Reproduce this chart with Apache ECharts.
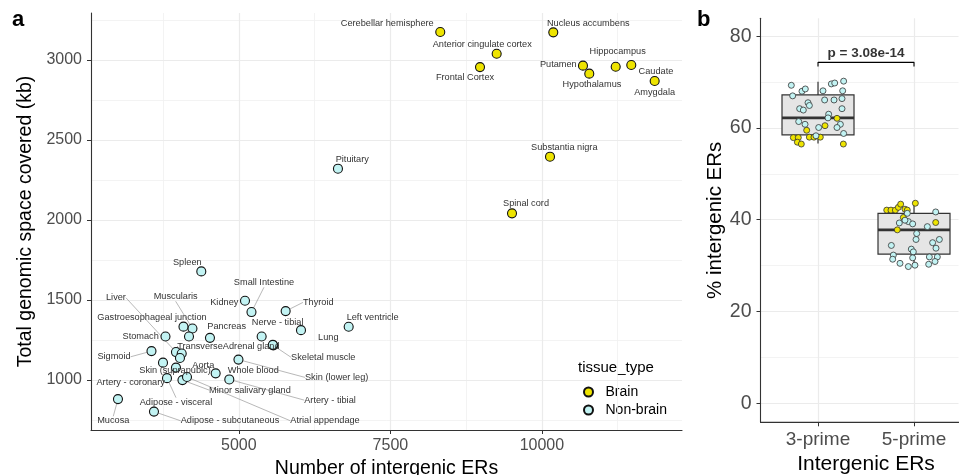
<!DOCTYPE html>
<html><head><meta charset="utf-8">
<script src="https://cdn.jsdelivr.net/npm/echarts@6.0.0/dist/echarts.min.js"></script>
<style>html,body{margin:0;padding:0;background:#fff}#c{width:959px;height:475px}</style>
</head><body><div id="c"></div>
<script>
// ---------------- Panel a data ----------------
const brainTissues = ['Cerebellar hemisphere','Nucleus accumbens','Anterior cingulate cortex','Frontal Cortex','Putamen','Hypothalamus','Hippocampus','Caudate','Amygdala','Substantia nigra','Spinal cord'];
const brainERs = [8323,10188,9254,8979,10678,10782,11218,11475,11861,10134,9507];
const brainKb  = [3175,3173,3039,2956,2965,2915,2958,2969,2869,2396,2042];

const nonBrainTissues = ['Pituitary','Spleen','Kidney','Small Intestine','Thyroid','Lung','Nerve - tibial','Skeletal muscle','Left ventricle','Liver','Muscularis','Gastroesophageal junction','Pancreas','Stomach','Transverse','Adrenal gland','Sigmoid','Skin (suprapubic)','Aorta','Whole blood','Skin (lower leg)','Artery - coronary','Minor salivary gland','Artery - tibial','Adipose - visceral','Atrial appendage','Mucosa','Adipose - subcutaneous',''];
const nonBrainERs = [6635,4380,5101,5208,5772,6025,5376,5568,6812,3962,4234,4086,4523,3789,4057,5560,3558,3748,4028,4617,4993,3962,4069,4842,3814,4144,3005,3599,4177];
const nonBrainKb  = [2321,1679,1496,1425,1431,1312,1272,1217,1333,1175,1322,1334,1264,1272,1166,1220,1181,1109,1138,1042,1128,1078,1000,1004,1012,1019,881,803,1272];

const xTicksA = [5000,7500,10000];
const xMinorA = [3750,6250,8750,11250];
const yTicksA = [1000,1500,2000,2500,3000];
const yMinorA = [750,1250,1750,2250,2750,3250];

// label placement (pixel offsets from point to label centre) and leader-line flags
const brainLabelOffset = [[-53,-8.7],[35,-9],[-14.4,-9.4],[-15,10.7],[-24.7,-1.4],[2.7,10.6],[2,-15],[24.7,6.7],[0,11],[14.3,-9.4],[14,-9.6]];
const nonBrainLabelOffset = [[14.3,-9.4],[-14,-9.3],[-20.7,1.6],[12.5,-29.3],[32.6,-8.7],[27.3,7.3],[16,-14.5],[50,12],[24,-9.4],[-60,-54.3],[-16.8,-31.8],[-31.5,-9.2],[16.7,-11],[-24.8,0.2],[18.3,-7.5],[-21.6,1.4],[-37.5,5.7],[12,7.5],[23.3,7],[37.6,-3.3],[98.2,17.8],[-45.3,14.8],[67.5,10],[100.7,20.7],[9,24],[138,43.7],[-4.7,21.7],[76,9.2],[0,0]];
const nonBrainLeader = [0,0,0,1,1,0,0,1,0,1,1,0,0,0,1,0,1,0,0,0,1,1,1,1,1,1,1,1,0];

// ---------------- Panel b data ----------------
const boxCategories = ['3-prime','5-prime'];
const boxStats = [ // [min, q1, median, q3, max]
  [56.6,58.5,62.2,67.2,70.1],
  [29.8,32.5,37.8,41.4,43.6]
];
const jit3BrainX = [0.882,1.073,1.198,0.743,0.795,0.91,1.024,0.785,0.826,1.264,0.958];
const jit3BrainY = [59.5,60.5,62.1,57.9,57.9,58.0,58.0,56.9,56.5,56.5,58.0];
const jit3NonX = [0.722,1.267,1.139,1.174,0.833,0.868,1.052,1.257,0.736,1.069,1.25,0.896,0.91,0.809,1.25,1.111,1.104,0.799,0.865,1.233,1.198,1.007,1.267,0.979,0.847,1.167];
const jit3NonY = [69.3,70.2,69.6,69.8,68.0,68.5,68.1,68.1,67.0,66.1,66.4,65.5,64.9,64.2,64.2,63.0,62.2,61.4,60.8,60.8,60.1,60.1,58.8,58.3,63.9,66.1];
const jit5BrainX = [1.716,1.76,1.806,1.837,1.861,1.906,1.93,1.889,1.826,2.014,2.226];
const jit5BrainY = [42.1,42.1,42.1,42.7,43.4,42.3,42.1,40.5,37.8,43.6,39.4];
const jit5NonX = [1.93,1.941,1.986,1.847,1.764,1.785,1.778,1.854,1.941,1.972,1.993,2.028,2.021,2.01,1.986,2.139,2.153,2.16,2.194,2.226,2.243,2.229,2.264,2.219,1.906];
const jit5NonY = [41.4,39.6,39.1,39.3,34.4,32.3,31.4,30.5,29.8,33.6,33.0,37.0,35.7,30.1,31.7,38.5,30.3,31.9,35.0,41.7,31.9,33.8,35.7,30.9,39.9];
const pValueText = 'p = 3.08e-14';
const bracketY = 74.3, bracketTickY = 73.4;
const yTicksB = [0,20,40,60,80];
const yMinorB = [10,30,50,70];
const yMinB = -4.14, yMaxB = 83.9;
const xMinB = 0.401, xMaxB = 2.4635;

// ---------------- styles ----------------
const FONT = '"Liberation Sans", Arial, Helvetica, sans-serif';
const C_BRAIN = '#EEE400', C_NON = '#C2F3F3', EDGE = '#111';
const GRID_MAJOR = '#EBEBEB', GRID_MINOR = '#F0F0F0';

function gridLines(xs, ys, xsMinor, ysMinor){
  const d = [];
  xsMinor.forEach(v => d.push({xAxis: v, lineStyle:{color:GRID_MINOR, width:0.8}}));
  ysMinor.forEach(v => d.push({yAxis: v, lineStyle:{color:GRID_MINOR, width:0.8}}));
  xs.forEach(v => d.push({xAxis: v, lineStyle:{color:GRID_MAJOR, width:1.2}}));
  ys.forEach(v => d.push({yAxis: v, lineStyle:{color:GRID_MAJOR, width:1.2}}));
  return d;
}

const brainData = brainTissues.map((n,i)=>({name:n, value:[brainERs[i], brainKb[i]]}));
const nonBrainData = nonBrainTissues.map((n,i)=>({name:n, value:[nonBrainERs[i], nonBrainKb[i]], labelLine:{show: !!nonBrainLeader[i]}}));

const zip = (xs, ys) => xs.map((x,i)=>[x, ys[i]]);

function renderBox(params, api){
  const c = api.value(0), mn = api.value(1), q1 = api.value(2), md = api.value(3), q3 = api.value(4), mx = api.value(5);
  const half = 0.375;
  const tl = api.coord([c-half, q3]), br = api.coord([c+half, q1]);
  const mL = api.coord([c-half, md]), mR = api.coord([c+half, md]);
  const top = api.coord([c, mx]), uq = api.coord([c, q3]), lq = api.coord([c, q1]), bot = api.coord([c, mn]);
  const s = {stroke:'#333', lineWidth:1.2};
  return {type:'group', children:[
    {type:'line', shape:{x1:top[0],y1:top[1],x2:uq[0],y2:uq[1]}, style:s},
    {type:'line', shape:{x1:lq[0],y1:lq[1],x2:bot[0],y2:bot[1]}, style:s},
    {type:'rect', shape:{x:tl[0], y:tl[1], width:br[0]-tl[0], height:br[1]-tl[1]}, style:{fill:'#E5E5E5', stroke:'#333', lineWidth:1.2}},
    {type:'line', shape:{x1:mL[0],y1:mL[1],x2:mR[0],y2:mR[1]}, style:{stroke:'#333', lineWidth:2.6}}
  ]};
}

// bottom axis line of panel b, drawn through the axis scale
function renderBaseLine(params, api){
  const a = api.coord([xMinB, yMinB]), b = api.coord([xMaxB, yMinB]);
  return {type:'line', shape:{x1:a[0], y1:a[1], x2:b[0]+2, y2:b[1]}, style:{stroke:'#333', lineWidth:1.1}};
}

const plain = v => String(v);
const axisCommon = {
  axisLine:{show:true, onZero:false, lineStyle:{color:'#333', width:1.1}},
  splitLine:{show:false},
  z: 6
};

const option = {
  animation:false,
  backgroundColor:'#fff',
  textStyle:{fontFamily:FONT},
  grid:[
    {left:91, top:13, width:591, height:417, outerBoundsMode:'none', containLabel:false},
    {left:760.5, top:18.3, width:198, height:404, outerBoundsMode:'none', containLabel:false}
  ],
  xAxis:[
    Object.assign({}, axisCommon, {type:'value', gridIndex:0, min:2560, max:12312,
      axisTick:{show:true, length:4, customValues:xTicksA, lineStyle:{color:'#333'}},
      axisLabel:{customValues:xTicksA, color:'#4D4D4D', fontSize:16, margin:8, fontFamily:FONT, formatter:plain},
      name:'Number of intergenic ERs', nameLocation:'middle', nameGap:27,
      nameTextStyle:{fontSize:19.5, color:'#000', fontFamily:FONT}}),
    Object.assign({}, axisCommon, {type:'value', gridIndex:1, min:xMinB, max:xMaxB,
      axisTick:{show:true, length:4, customValues:[1,2], lineStyle:{color:'#333'}},
      axisLabel:{customValues:[1,2], color:'#4D4D4D', fontSize:19, margin:8, fontFamily:FONT,
        formatter:v=>boxCategories[Math.round(v)-1]},
      name:'Intergenic ERs', nameLocation:'middle', nameGap:29,
      nameTextStyle:{fontSize:21, color:'#000', fontFamily:FONT, padding:[0,0,0,13]}})
  ],
  yAxis:[
    Object.assign({}, axisCommon, {type:'value', gridIndex:0, min:688, max:3294,
      axisTick:{show:true, length:4, customValues:yTicksA, lineStyle:{color:'#333'}},
      axisLabel:{customValues:yTicksA, color:'#4D4D4D', fontSize:16, margin:9, fontFamily:FONT, formatter:plain},
      name:'Total genomic space covered (kb)', nameLocation:'middle', nameGap:42,
      nameTextStyle:{fontSize:19.5, color:'#000', fontFamily:FONT}}),
    Object.assign({}, axisCommon, {type:'value', gridIndex:1, min:yMinB, max:yMaxB,
      axisTick:{show:true, length:4, customValues:yTicksB, lineStyle:{color:'#333'}},
      axisLabel:{customValues:yTicksB, color:'#4D4D4D', fontSize:19.5, margin:9, fontFamily:FONT, formatter:plain},
      name:'% intergenic ERs', nameLocation:'middle', nameGap:31,
      nameTextStyle:{fontSize:20.5, color:'#000', fontFamily:FONT}})
  ],
  legend:{
    data:['Brain','Non-brain'], orient:'vertical', left:578, top:380,
    itemWidth:18, itemHeight:9, itemGap:4, icon:'circle', selectedMode:false,
    textStyle:{fontSize:14, color:'#000', fontFamily:FONT, padding:[0,0,0,3]}
  },
  graphic:[
    {type:'text', left:12, top:9, style:{text:'a', font:'bold 22px "Liberation Sans", Arial', fill:'#000'}},
    {type:'text', left:697, top:9, style:{text:'b', font:'bold 22px "Liberation Sans", Arial', fill:'#000'}},
    {type:'text', left:578, top:360, style:{text:'tissue_type', font:'15px "Liberation Sans", Arial', fill:'#000'}}
  ],
  series:[
    {type:'scatter', xAxisIndex:0, yAxisIndex:0, data:[], silent:true, z:1,
      markLine:{silent:true, symbol:['none','none'], label:{show:false}, animation:false,
        lineStyle:{type:'solid'}, data: gridLines(xTicksA, yTicksA, xMinorA, yMinorA)}},
    {type:'scatter', xAxisIndex:1, yAxisIndex:1, data:[], silent:true, z:1,
      markLine:{silent:true, symbol:['none','none'], label:{show:false}, animation:false,
        lineStyle:{type:'solid'}, data: gridLines([1,2], yTicksB, [], yMinorB)}},
    {type:'custom', xAxisIndex:1, yAxisIndex:1, z:7, silent:true, clip:false,
      renderItem:renderBaseLine, data:[[xMinB, yMinB]]},
    {name:'Brain', type:'scatter', xAxisIndex:0, yAxisIndex:0, z:10, data:brainData,
      symbolSize:9, itemStyle:{color:C_BRAIN, borderColor:EDGE, borderWidth:1.1, opacity:1},
      label:{show:true, position:'inside', formatter:'{b}', fontSize:9.2, color:'#333', fontFamily:FONT},
      labelLayout:p=>({dx:brainLabelOffset[p.dataIndex][0], dy:brainLabelOffset[p.dataIndex][1]}),
      labelLine:{show:false, lineStyle:{color:'#888', width:0.6}}},
    {name:'Non-brain', type:'scatter', xAxisIndex:0, yAxisIndex:0, z:10, data:nonBrainData,
      symbolSize:9, itemStyle:{color:C_NON, borderColor:EDGE, borderWidth:1.1, opacity:1},
      label:{show:true, position:'inside', formatter:'{b}', fontSize:9.2, color:'#333', fontFamily:FONT},
      labelLayout:p=>({dx:nonBrainLabelOffset[p.dataIndex][0], dy:nonBrainLabelOffset[p.dataIndex][1]}),
      labelLine:{show:false, lineStyle:{color:'#888', width:0.6}}},
    {type:'custom', xAxisIndex:1, yAxisIndex:1, z:5, renderItem:renderBox,
      encode:{x:0, y:[1,2,3,4,5]},
      data: boxStats.map((s,i)=>[i+1].concat(s)), silent:true},
    {type:'line', xAxisIndex:1, yAxisIndex:1, z:6, symbol:'none', silent:true,
      lineStyle:{color:'#000', width:1.1},
      data:[[1,bracketTickY],[1,bracketY],[2,bracketY],[2,bracketTickY]]},
    {type:'scatter', xAxisIndex:1, yAxisIndex:1, z:6, symbolSize:0, silent:true,
      data:[[1.5,bracketY]],
      label:{show:true, position:'top', distance:2, formatter:pValueText, fontSize:13.5, fontWeight:'bold', color:'#000', fontFamily:FONT}},
    {name:'Brain', type:'scatter', xAxisIndex:1, yAxisIndex:1, z:9, symbolSize:6,
      itemStyle:{color:C_BRAIN, borderColor:'#333', borderWidth:0.8, opacity:1},
      data: zip(jit3BrainX, jit3BrainY).concat(zip(jit5BrainX, jit5BrainY))},
    {name:'Non-brain', type:'scatter', xAxisIndex:1, yAxisIndex:1, z:9, symbolSize:6,
      itemStyle:{color:C_NON, borderColor:'#333', borderWidth:0.8, opacity:1},
      data: zip(jit3NonX, jit3NonY).concat(zip(jit5NonX, jit5NonY))}
  ]
};
const chart = echarts.init(document.getElementById('c'), null, {renderer:'canvas'});
chart.setOption(option);
</script></body></html>
